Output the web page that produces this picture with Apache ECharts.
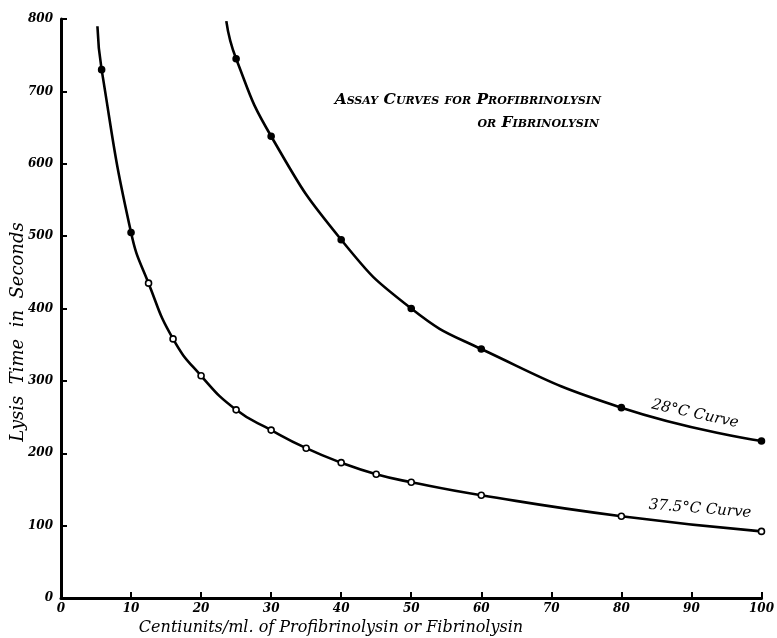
<!DOCTYPE html>
<html><head><meta charset="utf-8">
<script src="https://cdn.jsdelivr.net/npm/echarts@6/dist/echarts.min.js"></script>
<style>html,body{margin:0;padding:0;background:#fff}#c{width:777px;height:638px}</style>
</head><body><div id="c"></div>
<script>
// 37.5°C curve (first entry is the unmarked start of the drawn line)
const x375 = [5.2, 5.8, 10, 12.5, 16, 20, 25, 30, 35, 40, 45, 50, 60, 80, 100];
const y375 = [790, 730, 505, 435, 358, 307, 260, 232, 207, 187, 171, 160, 142, 113, 92];
const filled375 = [false, true, true, false, false, false, false, false, false, false, false, false, false, false, false];
// 28°C curve (first entry is the unmarked start of the drawn line)
const x28 = [23.6, 25, 30, 40, 50, 60, 80, 100];
const y28 = [797, 745, 638, 495, 400, 344, 263, 217];
const xTicks = [0,10,20,30,40,50,60,70,80,90,100];
const yTicks = [0,100,200,300,400,500,600,700,800];

const F = '"DejaVu Serif", serif';
function mk(xs, ys, fill) {
  return xs.map((x, i) => ({
    value: [x, ys[i]],
    symbolSize: i === 0 ? 0 : 6,
    itemStyle: { color: fill[i] ? '#000' : '#fff', borderColor: '#000', borderWidth: 1.6 }
  }));
}
const chart = echarts.init(document.getElementById('c'));
chart.setOption({
  animation: false,
  backgroundColor: '#fff',
  grid: { left: 61, right: 11, top: 19, bottom: 40 },
  xAxis: {
    type: 'value', min: 0, max: 100, interval: 10,
    axisLine: { lineStyle: { color: '#000', width: 3 } },
    axisTick: { inside: true, length: 6, lineStyle: { color: '#000', width: 2 } },
    splitLine: { show: false },
    axisLabel: { color: '#000', fontFamily: F, fontStyle: 'italic', fontWeight: 'bold', fontSize: 12, margin: 5 }
  },
  yAxis: {
    type: 'value', min: 0, max: 800, interval: 100,
    axisLine: { show: true, lineStyle: { color: '#000', width: 3 } },
    axisTick: { show: true, inside: true, length: 6, lineStyle: { color: '#000', width: 2 } },
    splitLine: { show: false },
    axisLabel: { color: '#000', fontFamily: F, fontStyle: 'italic', fontWeight: 'bold', fontSize: 12, margin: 8 }
  },
  series: [
    { type: 'line', smooth: 0.5, data: mk(x375, y375, filled375), symbol: 'circle', showAllSymbol: true,
      lineStyle: { color: '#000', width: 2.6 } },
    { type: 'line', smooth: 0.5, data: mk(x28, y28, x28.map(() => true)), symbol: 'circle', showAllSymbol: true,
      lineStyle: { color: '#000', width: 2.6 } }
  ],
  graphic: [
    { type: 'text', x: 601, y: 100, style: { text: 'Assay Curves for Profibrinolysin', font: 'italic small-caps bold 15.5px ' + F, fill: '#000', align: 'right', verticalAlign: 'middle' } },
    { type: 'text', x: 599, y: 123, style: { text: 'or Fibrinolysin', font: 'italic small-caps bold 15.5px ' + F, fill: '#000', align: 'right', verticalAlign: 'middle' } },
    { type: 'text', x: 695, y: 414, rotation: -0.215, style: { text: '28°C Curve', font: 'italic 15px ' + F, fill: '#000', align: 'center', verticalAlign: 'middle' } },
    { type: 'text', x: 700, y: 509, rotation: -0.08, style: { text: '37.5°C Curve', font: 'italic 15px ' + F, fill: '#000', align: 'center', verticalAlign: 'middle' } },
    { type: 'text', x: 331, y: 628, style: { text: 'Centiunits/ml. of Profibrinolysin or Fibrinolysin', font: 'italic 16px ' + F, fill: '#000', align: 'center', verticalAlign: 'middle' } },
    { type: 'text', x: 18, y: 332, rotation: Math.PI / 2, style: { text: 'Lysis  Time  in  Seconds', font: 'italic 18px ' + F, fill: '#000', align: 'center', verticalAlign: 'middle' } }
  ]
});
</script></body></html>
